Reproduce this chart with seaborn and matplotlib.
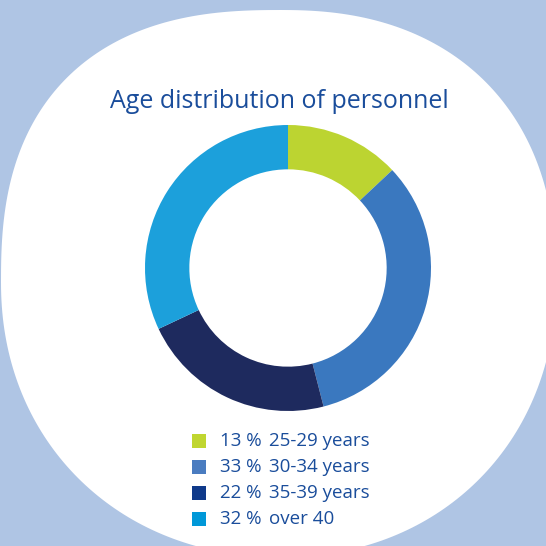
import numpy as np
import matplotlib.pyplot as plt
import seaborn as sns
from matplotlib.patches import Polygon, Rectangle

# Data
groups = ["25-29 years", "30-34 years", "35-39 years", "over 40"]
shares = [13, 33, 22, 32]
wedge_colors = ["#bcd431", "#3a78bf", "#1e2a5e", "#1ca0db"]
legend_colors = ["#c0d630", "#4a7cc0", "#0f3a8a", "#0098d8"]
title = "Age distribution of personnel"

sns.set_theme(style="white")
plt.rcParams["font.family"] = ["Open Sans", "DejaVu Sans"]

W = 546
text_blue = "#1a4d9b"

fig = plt.figure(figsize=(5.46, 5.46), dpi=100)
fig.patch.set_facecolor("#afc5e4")

# -----------------------------------
# WHITE ROUNDED BACKGROUND SHAPE
# -----------------------------------
cx, cy = 281, 282
quads = [  # (sx, sy, a, b, n)  y goes down in pixel space
    (1, -1, 275, 272, 2.3),
    (-1, -1, 280, 272, 2.5),
    (-1, 1, 280, 275, 2.1),
    (1, 1, 275, 275, 2.1),
]
pts = []
for q, (sx, sy, a, b, n) in enumerate(quads):
    t = np.linspace(0, np.pi / 2, 80)
    if q % 2 == 1:
        t = t[::-1]
    px = cx + sx * a * np.cos(t) ** (2 / n)
    py = cy + sy * b * np.sin(t) ** (2 / n)
    pts += list(zip(px / W, 1 - py / W))
fig.patches.append(Polygon(pts, closed=True, transform=fig.transFigure,
                           facecolor="white", edgecolor="none", zorder=0))

# -----------------------------------
# DONUT
# -----------------------------------
ox, oy, r = 288, 268, 143
ax = fig.add_axes([(ox - r) / W, 1 - (oy + r) / W, 2 * r / W, 2 * r / W])
ax.set_zorder(2)
ax.patch.set_visible(False)
ax.pie(shares, colors=wedge_colors, startangle=90, counterclock=False,
       radius=1, wedgeprops=dict(width=0.31, edgecolor="none"))
ax.set_xlim(-1, 1)
ax.set_ylim(-1, 1)
ax.set_aspect("equal")
ax.axis("off")

fig.text(279 / W, 1 - 101 / W, title, ha="center", va="center",
         fontsize=18, color=text_blue, zorder=3)

# -----------------------------------
# LEGEND
# -----------------------------------
for i, (g, s) in enumerate(zip(groups, shares)):
    y = 441 + i * 26
    fig.patches.append(Rectangle((192 / W, 1 - (y + 7) / W), 14 / W, 14 / W,
                                 transform=fig.transFigure, zorder=3,
                                 facecolor=legend_colors[i], edgecolor="none"))
    fig.text(262 / W, 1 - y / W, f"{s} %", ha="right", va="center",
             fontsize=13.5, color=text_blue, zorder=3)
    fig.text(269 / W, 1 - y / W, g, ha="left", va="center",
             fontsize=13.5, color=text_blue, zorder=3)

fig.savefig("out.png", dpi=100, facecolor=fig.get_facecolor())
